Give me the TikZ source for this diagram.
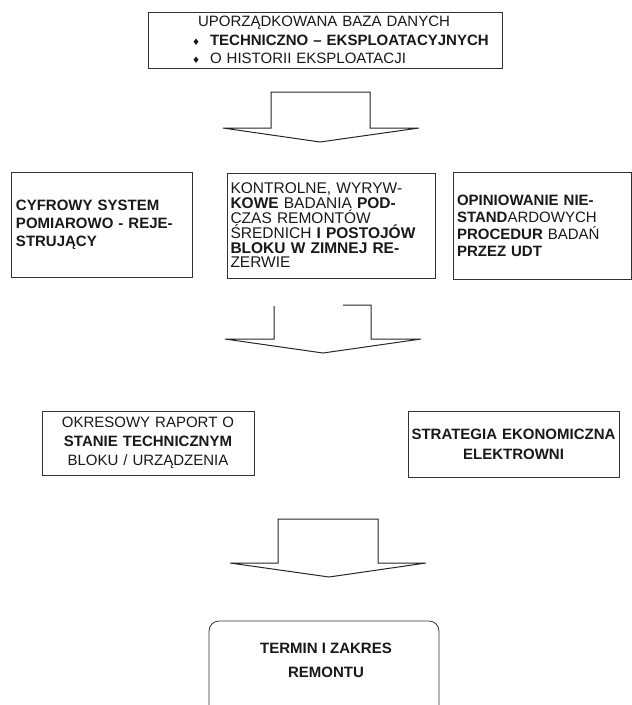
\documentclass[tikz,border=0pt]{standalone}
\usepackage{fontspec}
\setmainfont{Liberation Sans}
\newfontfamily\dejavu{DejaVu Sans}
\newcommand{\bul}{{\dejavu\fontsize{9}{9}\selectfont ♦}}
\begin{document}
\begin{tikzpicture}[x=1pt,y=-1pt,
  box/.style={draw=black!80, line width=0.8pt, rectangle, inner ysep=0pt, text=black!90},
  arr/.style={draw=black!85, line width=1pt, line join=miter}]
\clip (0,0) rectangle (632,705);
\fill[white] (0,0) rectangle (632,705);

% top box
\node[box, minimum width=354pt, minimum height=56pt, text width=334pt, inner xsep=10pt, align=left,
      font=\fontsize{15}{18.5}\selectfont] (baza) at (325,40)
  {\hspace*{40pt}UPORZĄDKOWANA BAZA DANYCH\\
   \hspace*{34pt}\bul\hspace*{10pt}\textbf{TECHNICZNO – EKSPLOATACYJNYCH}\\
   \hspace*{34pt}\bul\hspace*{10pt}O HISTORII EKSPLOATACJI};

% arrow 1
\draw[arr] (271,92) -- (271,128) -- (223,128) -- (320,142) -- (419,128) -- (370,128) -- (370,92) -- cycle;

% row 2
\node[box, minimum width=181pt, minimum height=105pt, text width=171pt, inner xsep=5pt, align=left,
      font=\bfseries\fontsize{15}{18}\selectfont] (cyf) at (101.5,224.5)
  {CYFROWY SYSTEM\\ POMIAROWO - REJE-\\ STRUJĄCY};

\node[box, minimum width=208pt, minimum height=105pt, text width=201pt, inner xsep=3.5pt, align=left,
      font=\fontsize{15.5}{14.8}\selectfont] (kon) at (331,225.5)
  {KONTROLNE, WYRYW-\\
   \textbf{KOWE} BADANIA \textbf{POD-}\\
   CZAS REMONTÓW\\
   ŚREDNICH \textbf{I POSTOJÓW}\\
   \textbf{BLOKU W ZIMNEJ RE-}\\
   ZERWIE};

\node[box, minimum width=178pt, minimum height=107pt, text width=170pt, inner xsep=4pt, align=left,
      font=\fontsize{15}{17}\selectfont] (opi) at (542,225.5)
  {\textbf{OPINIOWANIE NIE-}\\
   \textbf{STAND}ARDOWYCH\\
   \textbf{PROCEDUR} BADAŃ\\
   \textbf{PRZEZ UDT}};

% arrow 2
\draw[arr] (274,306) -- (274,339) -- (225,339) -- (323,353) -- (421,339) -- (371,339) -- (371,305) -- (343,305);

% row 3
\node[box, minimum width=212pt, minimum height=64pt, text width=204pt, inner xsep=4pt, align=center,
      font=\fontsize{15}{19}\selectfont] (rap) at (148,443)
  {OKRESOWY RAPORT O\\ \textbf{STANIE TECHNICZNYM}\\ BLOKU / URZĄDZENIA};

\node[box, minimum width=211pt, minimum height=66pt, text width=207pt, inner xsep=2pt, align=center,
      font=\bfseries\fontsize{15}{20}\selectfont] (str) at (513.5,444)
  {STRATEGIA EKONOMICZNA\\ ELEKTROWNI};

% arrow 3
\draw[arr] (278,519) -- (278,563) -- (230,563) -- (329,577) -- (426,563) -- (378,563) -- (378,519) -- cycle;

% bottom box
\node[box, rounded corners=10pt, minimum width=230pt, minimum height=104pt] (end) at (324,673) {};
\node[align=center, text=black!90, font=\bfseries\fontsize{15}{24}\selectfont] (endtext) at (326,660)
  {TERMIN I ZAKRES\\ REMONTU};
\end{tikzpicture}
\end{document}
